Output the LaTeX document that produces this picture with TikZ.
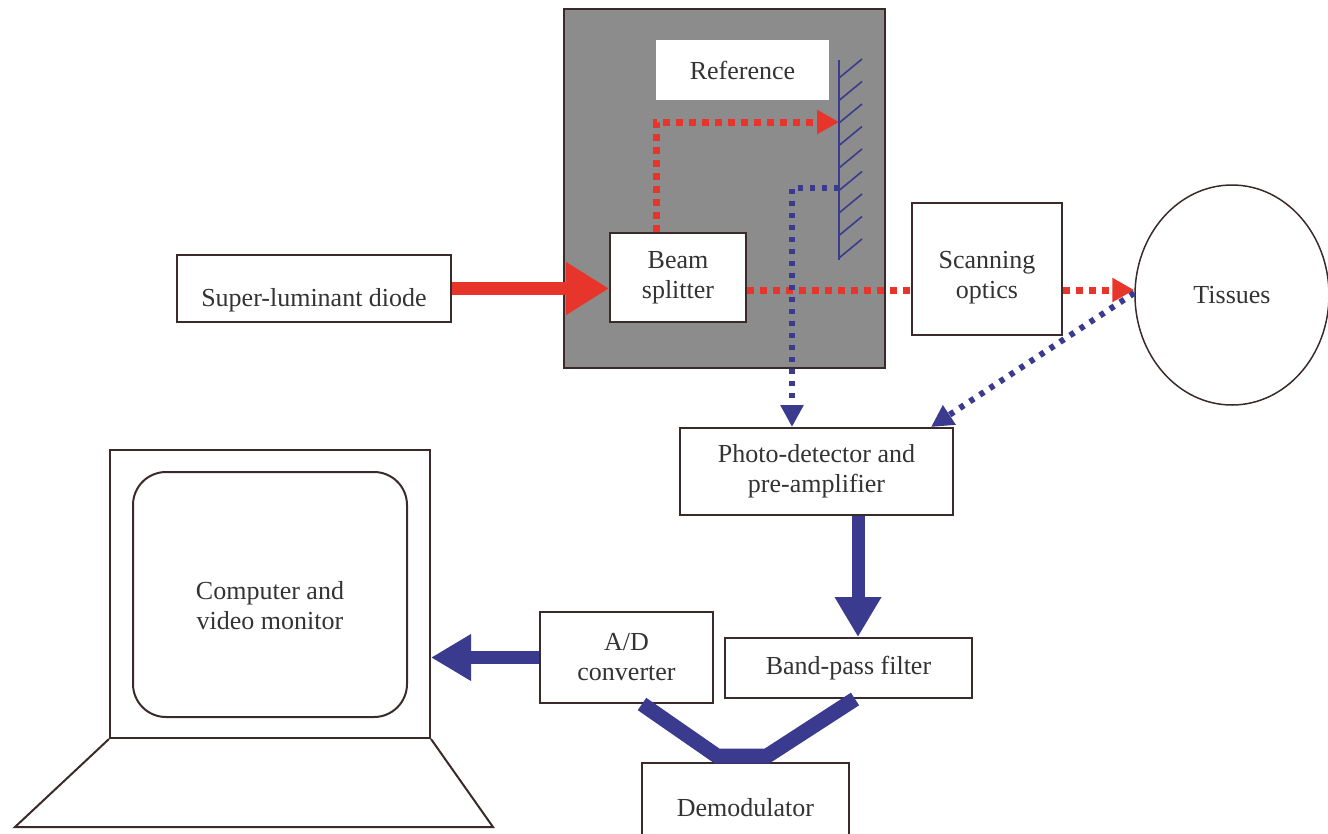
\documentclass[tikz,border=0pt]{standalone}
\usepackage{fontspec}
\setmainfont{Liberation Serif}
\usetikzlibrary{arrows.meta,shapes.geometric}
\definecolor{edge}{HTML}{3B2A2A}
\definecolor{ink}{HTML}{333333}
\definecolor{beam}{HTML}{E8352B}
\definecolor{sig}{HTML}{3A3A8E}
\definecolor{housing}{HTML}{8C8C8C}

\begin{document}
\begin{tikzpicture}[x=1pt, y=-1pt, font=\fontsize{26}{30}\selectfont, text=ink,
	blk/.style = {draw=edge, line width=2pt, fill=white, align=center, inner sep=0pt},
	redline/.style = {beam, line width=7pt, dash pattern=on 7pt off 6pt},
	redray/.style = {redline, -{Triangle[length=22pt,width=23pt]}},
	blueline/.style = {sig, line width=6pt, dash pattern=on 5pt off 7pt},
	blueray/.style = {blueline, -{Triangle[length=22pt,width=22pt]}},
	bigred/.style = {beam, line width=13pt, -{Triangle[length=43pt,width=50pt]}},
	bigblue/.style = {sig, line width=13pt, -{Triangle[length=40pt,width=44pt]}}]
	\useasboundingbox (0,0) rectangle (1328,833);
	\node[draw=edge, line width=2.5pt, fill=housing, minimum width=321pt, minimum height=359pt, inner sep=0pt] (box) at (724.5,188.5) {};
	\node[fill=white, minimum width=173pt, minimum height=60pt, inner sep=0pt] (ref) at (742.5,70) {Reference};
	\draw[sig, line width=2pt] (839,60) -- (839,260);
	\foreach \k in {0,...,8}
		\draw[sig, line width=1.6pt] (839,{78+22.5*\k}) -- ++(23,-19);
	\coordinate (mA) at (839,122);
	\coordinate (mB) at (839,188);
	\node[blk, minimum width=274pt, minimum height=67pt] (sld) at (314,288.5) {\rule{0pt}{42pt}Super-luminant diode};
	\node[blk, minimum width=136pt, minimum height=89pt] (bs) at (678,277.5) {Beam\\splitter};
	\node[blk, minimum width=150pt, minimum height=132pt] (scan) at (987,269) {\rule{0pt}{34pt}Scanning\\optics};
	\node[ellipse, draw=edge, line width=1.5pt, minimum width=194pt, minimum height=220pt, inner sep=0pt] (tis) at (1232,295) {Tissues};
	\node[blk, minimum width=273pt, minimum height=87pt] (pd) at (816.5,471.5) {Photo-detector and\\pre-amplifier};
	\node[blk, minimum width=247pt, minimum height=60pt] (bpf) at (848.5,668) {Band-pass filter};
	\node[blk, minimum width=173pt, minimum height=91pt] (adc) at (626.5,657.5) {A/D\\converter};
	\node[blk, minimum width=207pt, minimum height=90pt] (demod) at (745.5,808) {Demodulator};
	\node[draw=edge, line width=2pt, minimum width=320pt, minimum height=288pt, inner sep=0pt] (mon) at (270,594) {};
	\node[draw=edge, line width=2pt, rounded corners=33pt, minimum width=274pt, minimum height=245pt, align=center, inner sep=0pt] (scr) at (270,594.5) {\rule{0pt}{40pt}Computer and\\video monitor};
	\draw[edge, line width=2pt] (mon.south west) -- (15,827) -- (493,827) -- (mon.south east);
	\coordinate (bsout) at ([yshift=-13pt]bs.east);
	\coordinate (scout) at ([yshift=-21pt]scan.east);
	\coordinate (bsup) at ([xshift=-22pt]bs.north);
	\coordinate (pddown) at ([xshift=41.5pt]pd.south);
	\draw[bigred] (sld.east) -- (sld.east -| bs.west);
	\draw[redray] (bsup) |- (mA);
	\draw[redline] (bsout) -- (bsout -| scan.west);
	\draw[redray] (scout) -- (scout -| tis.west);
	\draw[blueray] (mB) -| ([xshift=-24.5pt]pd.north);
	\draw[blueray] ([yshift=2pt]tis.west) -- ([xshift=-23pt]pd.north east);
	\draw[bigblue] (pddown) -- (pddown |- bpf.north);
	\draw[bigblue] (adc.west) -- (adc.west -| mon.east);
	\draw[sig, line width=15pt] ([xshift=15.5pt]adc.south) -- ([xshift=-28.5pt,yshift=6pt]demod.north) -- ([xshift=21.5pt,yshift=6pt]demod.north) -- ([xshift=6.5pt]bpf.south);
\end{tikzpicture}
\end{document}
